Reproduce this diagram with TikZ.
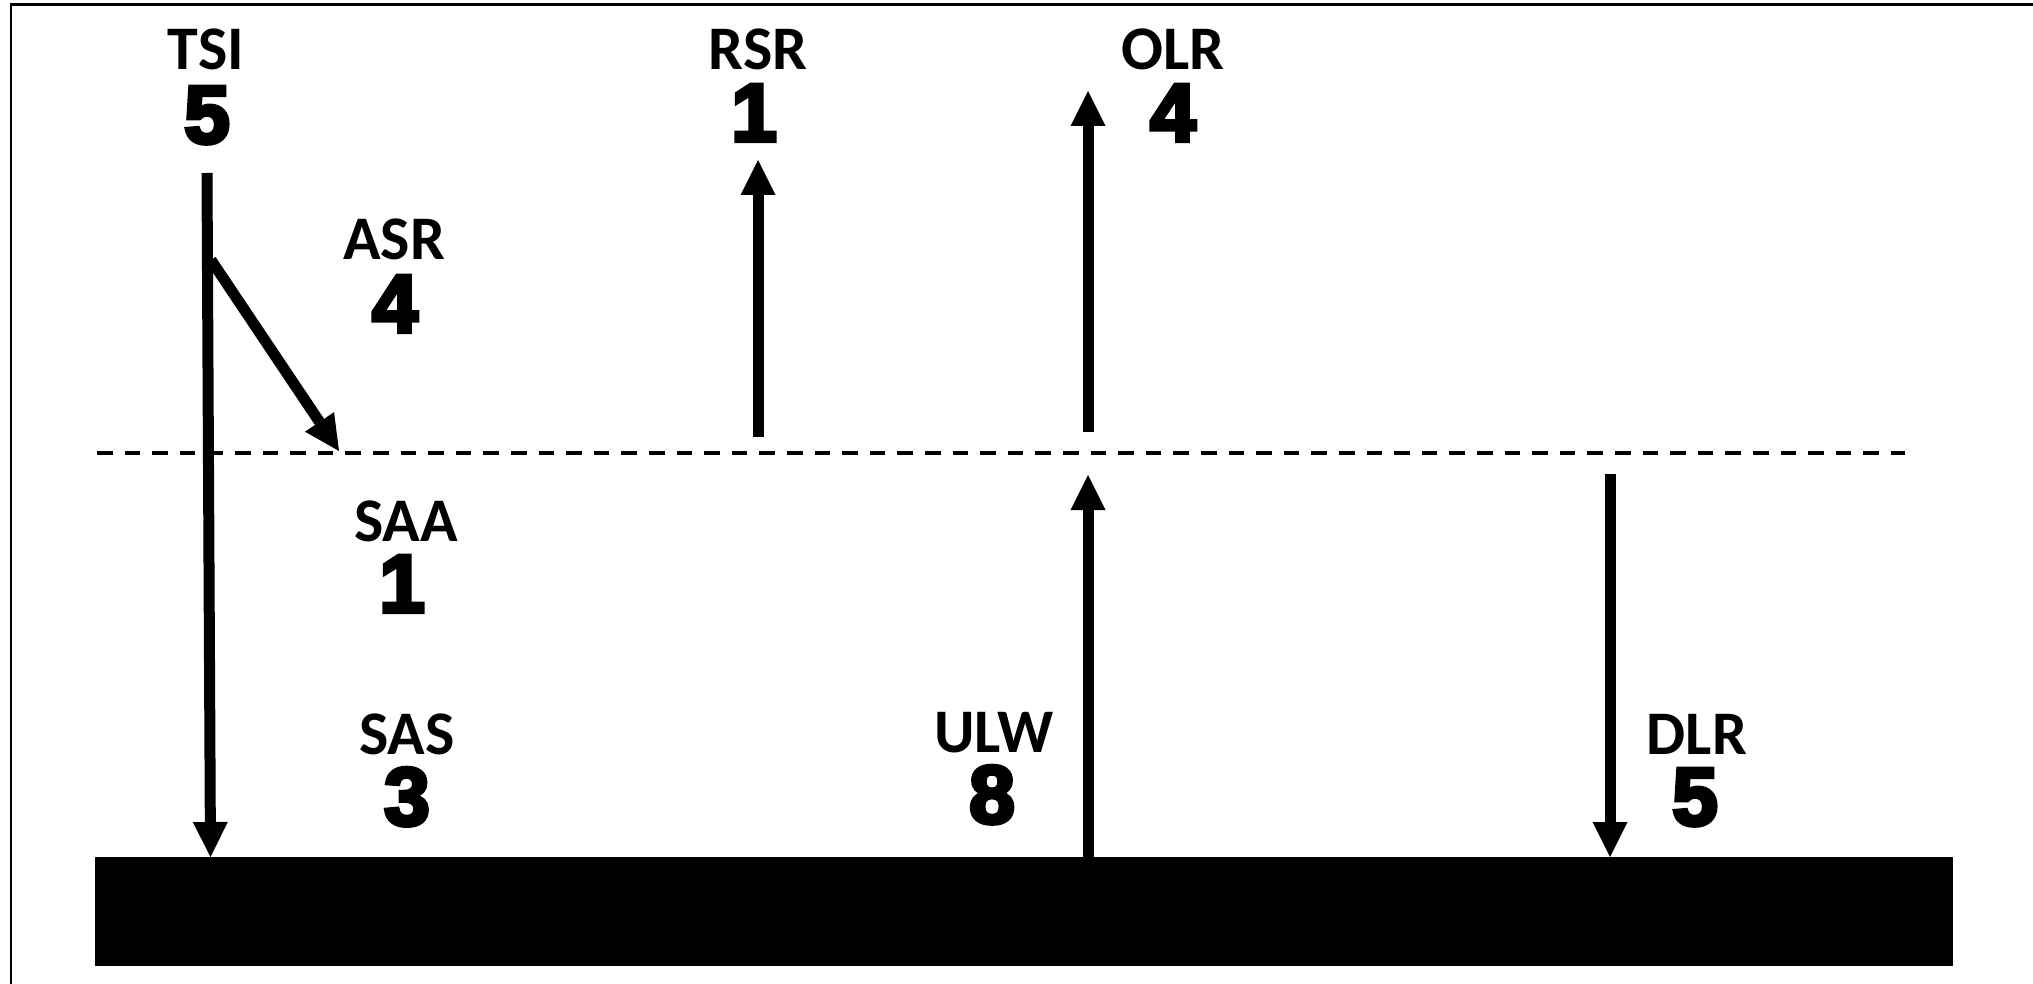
\documentclass[tikz,border=0pt]{standalone}
\usepackage{fontspec}
\usepackage{graphicx}
\usetikzlibrary{arrows.meta}
\newfontfamily\carlfont{Carlito}
\newfontfamily\numfamily{Liberation Sans}[BoldFeatures={FakeBold=5}]
\begin{document}
\begin{tikzpicture}[x=0.5pt,y=-0.5pt,
  lbl/.style={font=\carlfont\bfseries\fontsize{31}{31}\selectfont, anchor=base, inner sep=0pt, text depth=0pt},
  num/.style={font=\numfamily\bfseries\fontsize{41}{41}\selectfont, anchor=base, inner sep=0pt, text depth=0pt, text height=29pt},
  flow/.style={line width=5.5pt, -{Triangle[length=17.5pt,width=17.5pt,line width=0pt]}},
  dashline/.style={line width=2.3pt, dash pattern=on 7.8pt off 6pt},
  framestyle/.style={line width=1.3pt},
  groundbox/.style={fill=black, draw=none, inner sep=0pt, minimum width=929pt, minimum height=54.5pt}]
\useasboundingbox (0,0) rectangle (2033,984);
\clip (0,0) rectangle (2033,984);
% frame (left and top edges visible)
\coordinate (fbl) at (11,1000);
\coordinate (ftl) at (11,4.7);
\coordinate (ftr) at (2050,4.7);
\draw[framestyle] (fbl) -- (ftl) -- (ftr);
% ground
\node[groundbox] (gnd) at (1024,911.5) {};
% dashed atmosphere top
\coordinate (dl) at (97,453);
\coordinate (dr) at (1905,453);
\draw[dashline] (dl) -- (dr);
% labels
\node[lbl] (tsiL) at (206,70) {TSI};
\node[num] (tsiN) at (207,143) {5};
\node[lbl] (asrL) at (394,260) {ASR};
\node[num] (asrN) at (395,332) {4};
\node[lbl] (rsrL) at (758,70) {RSR};
\node[num] (rsrN) at (754,141) {1};
\node[lbl] (olrL) at (1173,70) {OLR};
\node[num] (olrN) at (1173,141) {4};
\node[lbl] (saaL) at (406,541) {SAA};
\node[num] (saaN) at (402,612) {1};
\node[lbl] (sasL) at (407,754) {SAS};
\node[num] (sasN) at (407,825) {3};
\node[lbl] (ulwL) at (994,752) {ULW};
\node[num] (ulwN) at (992,823) {8};
\node[lbl] (dlrL) at (1697,754) {DLR};
\node[num] (dlrN) at (1695,825) {5};
% arrow end points
\coordinate (tsiA) at (207,173);
\coordinate (tsiB) at (210.5,857);
\coordinate (asrA) at (211,260);
\coordinate (asrB) at (339,451);
\coordinate (rsrA) at (758,437);
\coordinate (rsrB) at (758,160);
\coordinate (olrA) at (1088,432);
\coordinate (olrB) at (1088,91);
\coordinate (ulwA) at (1088,857);
\coordinate (ulwB) at (1088,475);
\coordinate (dlrA) at (1610,474);
\coordinate (dlrB) at (1610,857);
\draw[flow] (tsiA) -- (tsiB);
\draw[flow] (asrA) -- (asrB);
\draw[flow] (rsrA) -- (rsrB);
\draw[flow] (olrA) -- (olrB);
\draw[flow] (ulwA) -- (ulwB);
\draw[flow] (dlrA) -- (dlrB);
\end{tikzpicture}
\end{document}
